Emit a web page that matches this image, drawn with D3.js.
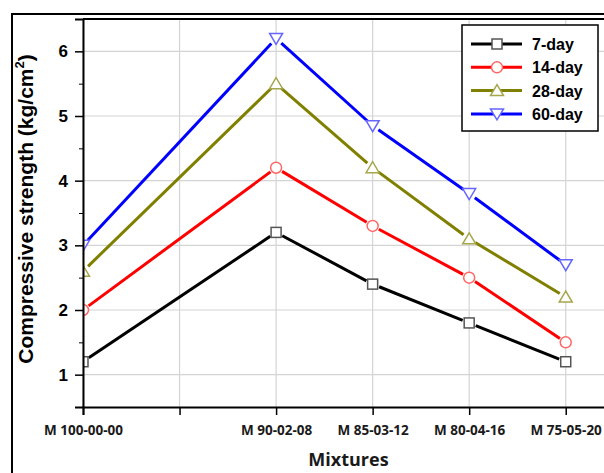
<!DOCTYPE html>
<html>
<head>
<meta charset="utf-8">
<script src="https://cdn.jsdelivr.net/npm/d3@7"></script>
<style>
  body { margin: 0; background: #fff; }
  svg { display: block; }
</style>
</head>
<body>
<svg width="604" height="473"></svg>
<script>
// chart data
const mixtures = ["M 100-00-00", "M 90-02-08", "M 85-03-12", "M 80-04-16", "M 75-05-20"];
const mixPos = [0, 2, 3, 4, 5];
const ages = ["7-day", "14-day", "28-day", "60-day"];
const day7 = [1.2, 3.2, 2.4, 1.8, 1.2];
const day14 = [2.0, 4.2, 3.3, 2.5, 1.5];
const day28 = [2.6, 5.5, 4.2, 3.1, 2.2];
const day60 = [3.0, 6.2, 4.85, 3.8, 2.7];
const yTicks = [1, 2, 3, 4, 5, 6];

const series = [
  { name: ages[0], values: day7, color: "#000000", mark: "#555555", shape: "square" },
  { name: ages[1], values: day14, color: "#ff0000", mark: "#ff6666", shape: "circle" },
  { name: ages[2], values: day28, color: "#808000", mark: "#a6a64d", shape: "up" },
  { name: ages[3], values: day60, color: "#0000ff", mark: "#6666ff", shape: "down" }
];

const svg = d3.select("svg");
const pLeft = 83, pTop = 19, pBottom = 407, pRight = 614;

const x = d3.scaleLinear().domain([0, 5.5]).range([pLeft, pRight]);
const y = d3.scaleLinear().domain([0.5, 6.5]).range([pBottom, pTop]);

// outer frame
svg.append("rect")
  .attr("x", 12).attr("y", 14)
  .attr("width", 700).attr("height", 600)
  .attr("fill", "none").attr("stroke", "#000").attr("stroke-width", 2);

// grid
const grid = svg.append("g").attr("stroke", "#d4d4d4").attr("stroke-width", 1.2);
[0, 1, 2, 3, 4, 5].forEach(v => {
  grid.append("line").attr("x1", x(v)).attr("x2", x(v)).attr("y1", pTop).attr("y2", pBottom);
});
yTicks.forEach(v => {
  grid.append("line").attr("x1", pLeft).attr("x2", pRight).attr("y1", y(v)).attr("y2", y(v));
});

// plot frame top
svg.append("line").attr("x1", pLeft).attr("x2", pRight).attr("y1", pTop).attr("y2", pTop)
  .attr("stroke", "#000").attr("stroke-width", 2);

// clip to the plot area
svg.append("defs").append("clipPath").attr("id", "plot")
  .append("rect").attr("x", pLeft).attr("y", pTop).attr("width", pRight - pLeft).attr("height", pBottom - pTop);

const plot = svg.append("g").attr("clip-path", "url(#plot)");

// lines with a gap around each marker
const gap = 7;
series.forEach(s => {
  const pts = s.values.map((v, i) => [x(mixPos[i]), y(v)]);
  for (let i = 0; i < pts.length - 1; ++i) {
    const [x0, y0] = pts[i], [x1, y1] = pts[i + 1];
    const len = Math.hypot(x1 - x0, y1 - y0);
    const ux = (x1 - x0) / len, uy = (y1 - y0) / len;
    plot.append("line")
      .attr("x1", x0 + ux * gap).attr("y1", y0 + uy * gap)
      .attr("x2", x1 - ux * gap).attr("y2", y1 - uy * gap)
      .attr("stroke", s.color).attr("stroke-width", 3);
  }
});

// marker shapes
function marker(g, shape, cx, cy, color) {
  if (shape === "square") {
    g.append("rect").attr("x", cx - 5).attr("y", cy - 5).attr("width", 10).attr("height", 10)
      .attr("fill", "#fff").attr("stroke", color).attr("stroke-width", 1.5);
  } else if (shape === "circle") {
    g.append("circle").attr("cx", cx).attr("cy", cy).attr("r", 5.5)
      .attr("fill", "#fff").attr("stroke", color).attr("stroke-width", 1.5);
  } else {
    const s = shape === "up" ? -1 : 1;
    const pts = [[cx, cy + s * 6], [cx - 6.5, cy - s * 5], [cx + 6.5, cy - s * 5]];
    g.append("path").attr("d", "M" + pts.join("L") + "Z")
      .attr("fill", "#fff").attr("stroke", color).attr("stroke-width", 1.5);
  }
}

series.forEach(s => {
  s.values.forEach((v, i) => marker(plot, s.shape, x(mixPos[i]), y(v), s.mark));
});

// y axis
const yAxis = svg.append("g").attr("transform", `translate(${pLeft},0)`)
  .call(d3.axisLeft(y).tickValues(yTicks).tickSize(8).tickFormat(d3.format("d")));
svg.append("g").attr("transform", `translate(${pLeft},0)`)
  .call(d3.axisLeft(y).tickValues([0.5, 1.5, 2.5, 3.5, 4.5, 5.5, 6.5]).tickSize(4).tickFormat(""))
  .call(g => g.select(".domain").remove());
yAxis.select(".domain").attr("stroke-width", 2);
yAxis.selectAll("text").attr("font-family", "Liberation Sans, Arial, sans-serif")
  .attr("font-size", 17).attr("font-weight", "bold").attr("fill", "#000").attr("dx", -4);

// x axis
const xAxis = svg.append("g").attr("transform", `translate(0,${pBottom})`)
  .call(d3.axisBottom(x).tickValues([0, 1, 2, 3, 4, 5]).tickSize(8)
    .tickFormat(d => { const k = mixPos.indexOf(d); return k < 0 ? "" : mixtures[k]; }));
xAxis.select(".domain").attr("stroke-width", 2);
xAxis.selectAll(".tick line").attr("stroke-width", 1.5);
yAxis.selectAll(".tick line").attr("stroke-width", 1.5);
xAxis.selectAll("text").attr("font-family", "Open Sans, sans-serif")
  .attr("font-size", 13.5).attr("font-weight", "bold").attr("fill", "#1a1a1a").attr("dy", "1.25em");

// axis titles
svg.append("text")
  .attr("x", (pLeft + pRight) / 2).attr("y", 466)
  .attr("text-anchor", "middle")
  .attr("font-family", "Open Sans, sans-serif").attr("font-size", 18).attr("font-weight", "bold")
  .attr("fill", "#1a1a1a")
  .text("Mixtures");

const yt = svg.append("text")
  .attr("transform", "translate(33,209) rotate(-90)")
  .attr("text-anchor", "middle")
  .attr("font-family", "Liberation Sans, Arial, sans-serif").attr("font-size", 21).attr("font-weight", "bold")
  .attr("fill", "#000");
yt.append("tspan").text("Compressive strength (kg/cm");
yt.append("tspan").attr("font-size", 13).attr("dy", -9).text("2");
yt.append("tspan").attr("dy", 9).text(")");

// legend
const legend = svg.append("g");
legend.append("rect").attr("x", 462).attr("y", 25).attr("width", 136).attr("height", 106)
  .attr("fill", "#fff").attr("stroke", "#000").attr("stroke-width", 1.5);
series.forEach((s, i) => {
  const ly = 44 + i * 23.3;
  legend.append("line").attr("x1", 471).attr("x2", 522).attr("y1", ly).attr("y2", ly)
    .attr("stroke", s.color).attr("stroke-width", 3);
  marker(legend, s.shape, 497, ly, s.mark);
  legend.append("text").attr("x", 532).attr("y", ly + 6)
    .attr("font-family", "Liberation Sans, Arial, sans-serif").attr("font-size", 16).attr("font-weight", "bold")
    .attr("fill", "#000").text(s.name);
});
</script>
</body>
</html>
